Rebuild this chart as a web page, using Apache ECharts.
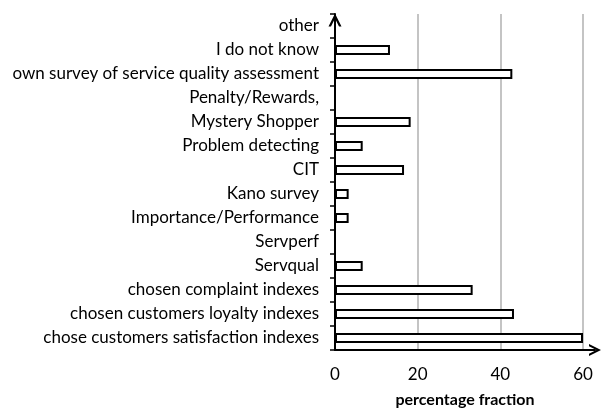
<!DOCTYPE html>
<html>
<head>
<meta charset="utf-8">
<script src="https://cdn.jsdelivr.net/npm/echarts@6/dist/echarts.min.js"></script>
<style>
  html, body { margin: 0; padding: 0; background: #fff; }
  #chart { width: 603px; height: 413px; }
</style>
</head>
<body>
<div id="chart"></div>
<script>
// categories, bottom to top
const methods = [
  'chose customers satisfaction indexes',
  'chosen customers loyalty indexes',
  'chosen complaint indexes',
  'Servqual',
  'Servperf',
  'Importance/Performance',
  'Kano survey',
  'CIT',
  'Problem detecting',
  'Mystery Shopper',
  'Penalty/Rewards,',
  'own survey of service quality assessment',
  'I do not know',
  'other',
]
const fractions = [60, 43.3, 33.3, 6.7, 0, 3.3, 3.3, 16.7, 6.7, 18.3, 0, 42.9, 13.3, 0]
const xTicks = [0, 20, 40, 60]

const font = 'Lato, "Open Sans", sans-serif'
// 开口箭头
const chevron = 'path://M0,10 L5,0 L10,10 L8.1,10 L5,3.8 L1.9,10 Z'

const myChart = echarts.init(document.getElementById('chart'))

const option = {
  animation: false,
  grid: {
    left: 335,
    right: 8,
    top: 14,
    bottom: 60,
  },
  xAxis: {
    type: 'value',
    min: 0,
    max: 62.9,
    interval: 20,
    name: 'percentage fraction',
    nameLocation: 'middle',
    nameGap: 42,
    nameTextStyle: {
      fontFamily: font,
      fontSize: 16,
      fontWeight: 'bold',
      color: '#000',
    },
    axisLine: {
      show: true,
      lineStyle: { color: '#000', width: 2 },
      symbol: ['none', chevron],
      symbolSize: [13, 12],
    },
    axisTick: { show: false },
    axisLabel: {
      fontFamily: font,
      fontSize: 17,
      color: '#000',
      margin: 16,
      showMaxLabel: false,
      formatter: (v) => (xTicks.includes(v) ? String(v) : ''),
    },
    splitLine: {
      show: true,
      showMaxLine: false,
      lineStyle: { color: '#b0b0b0', width: 1.5 },
    },
  },
  yAxis: {
    type: 'category',
    data: methods,
    axisLine: {
      show: true,
      lineStyle: { color: '#000', width: 2 },
      symbol: ['none', chevron],
      symbolSize: [14, 13],
      symbolOffset: [0, -6],
    },
    axisTick: {
      show: true,
      length: 5,
      lineStyle: { color: '#000', width: 1.5 },
    },
    axisLabel: {
      fontFamily: font,
      fontSize: 17,
      color: '#000',
      margin: 16,
    },
    splitLine: { show: false },
  },
  series: [
    {
      type: 'bar',
      data: fractions,
      barWidth: 10,
      itemStyle: {
        color: '#fff',
        borderColor: '#000',
        borderWidth: 2,
      },
    },
  ],
}

myChart.setOption(option)
</script>
</body>
</html>
